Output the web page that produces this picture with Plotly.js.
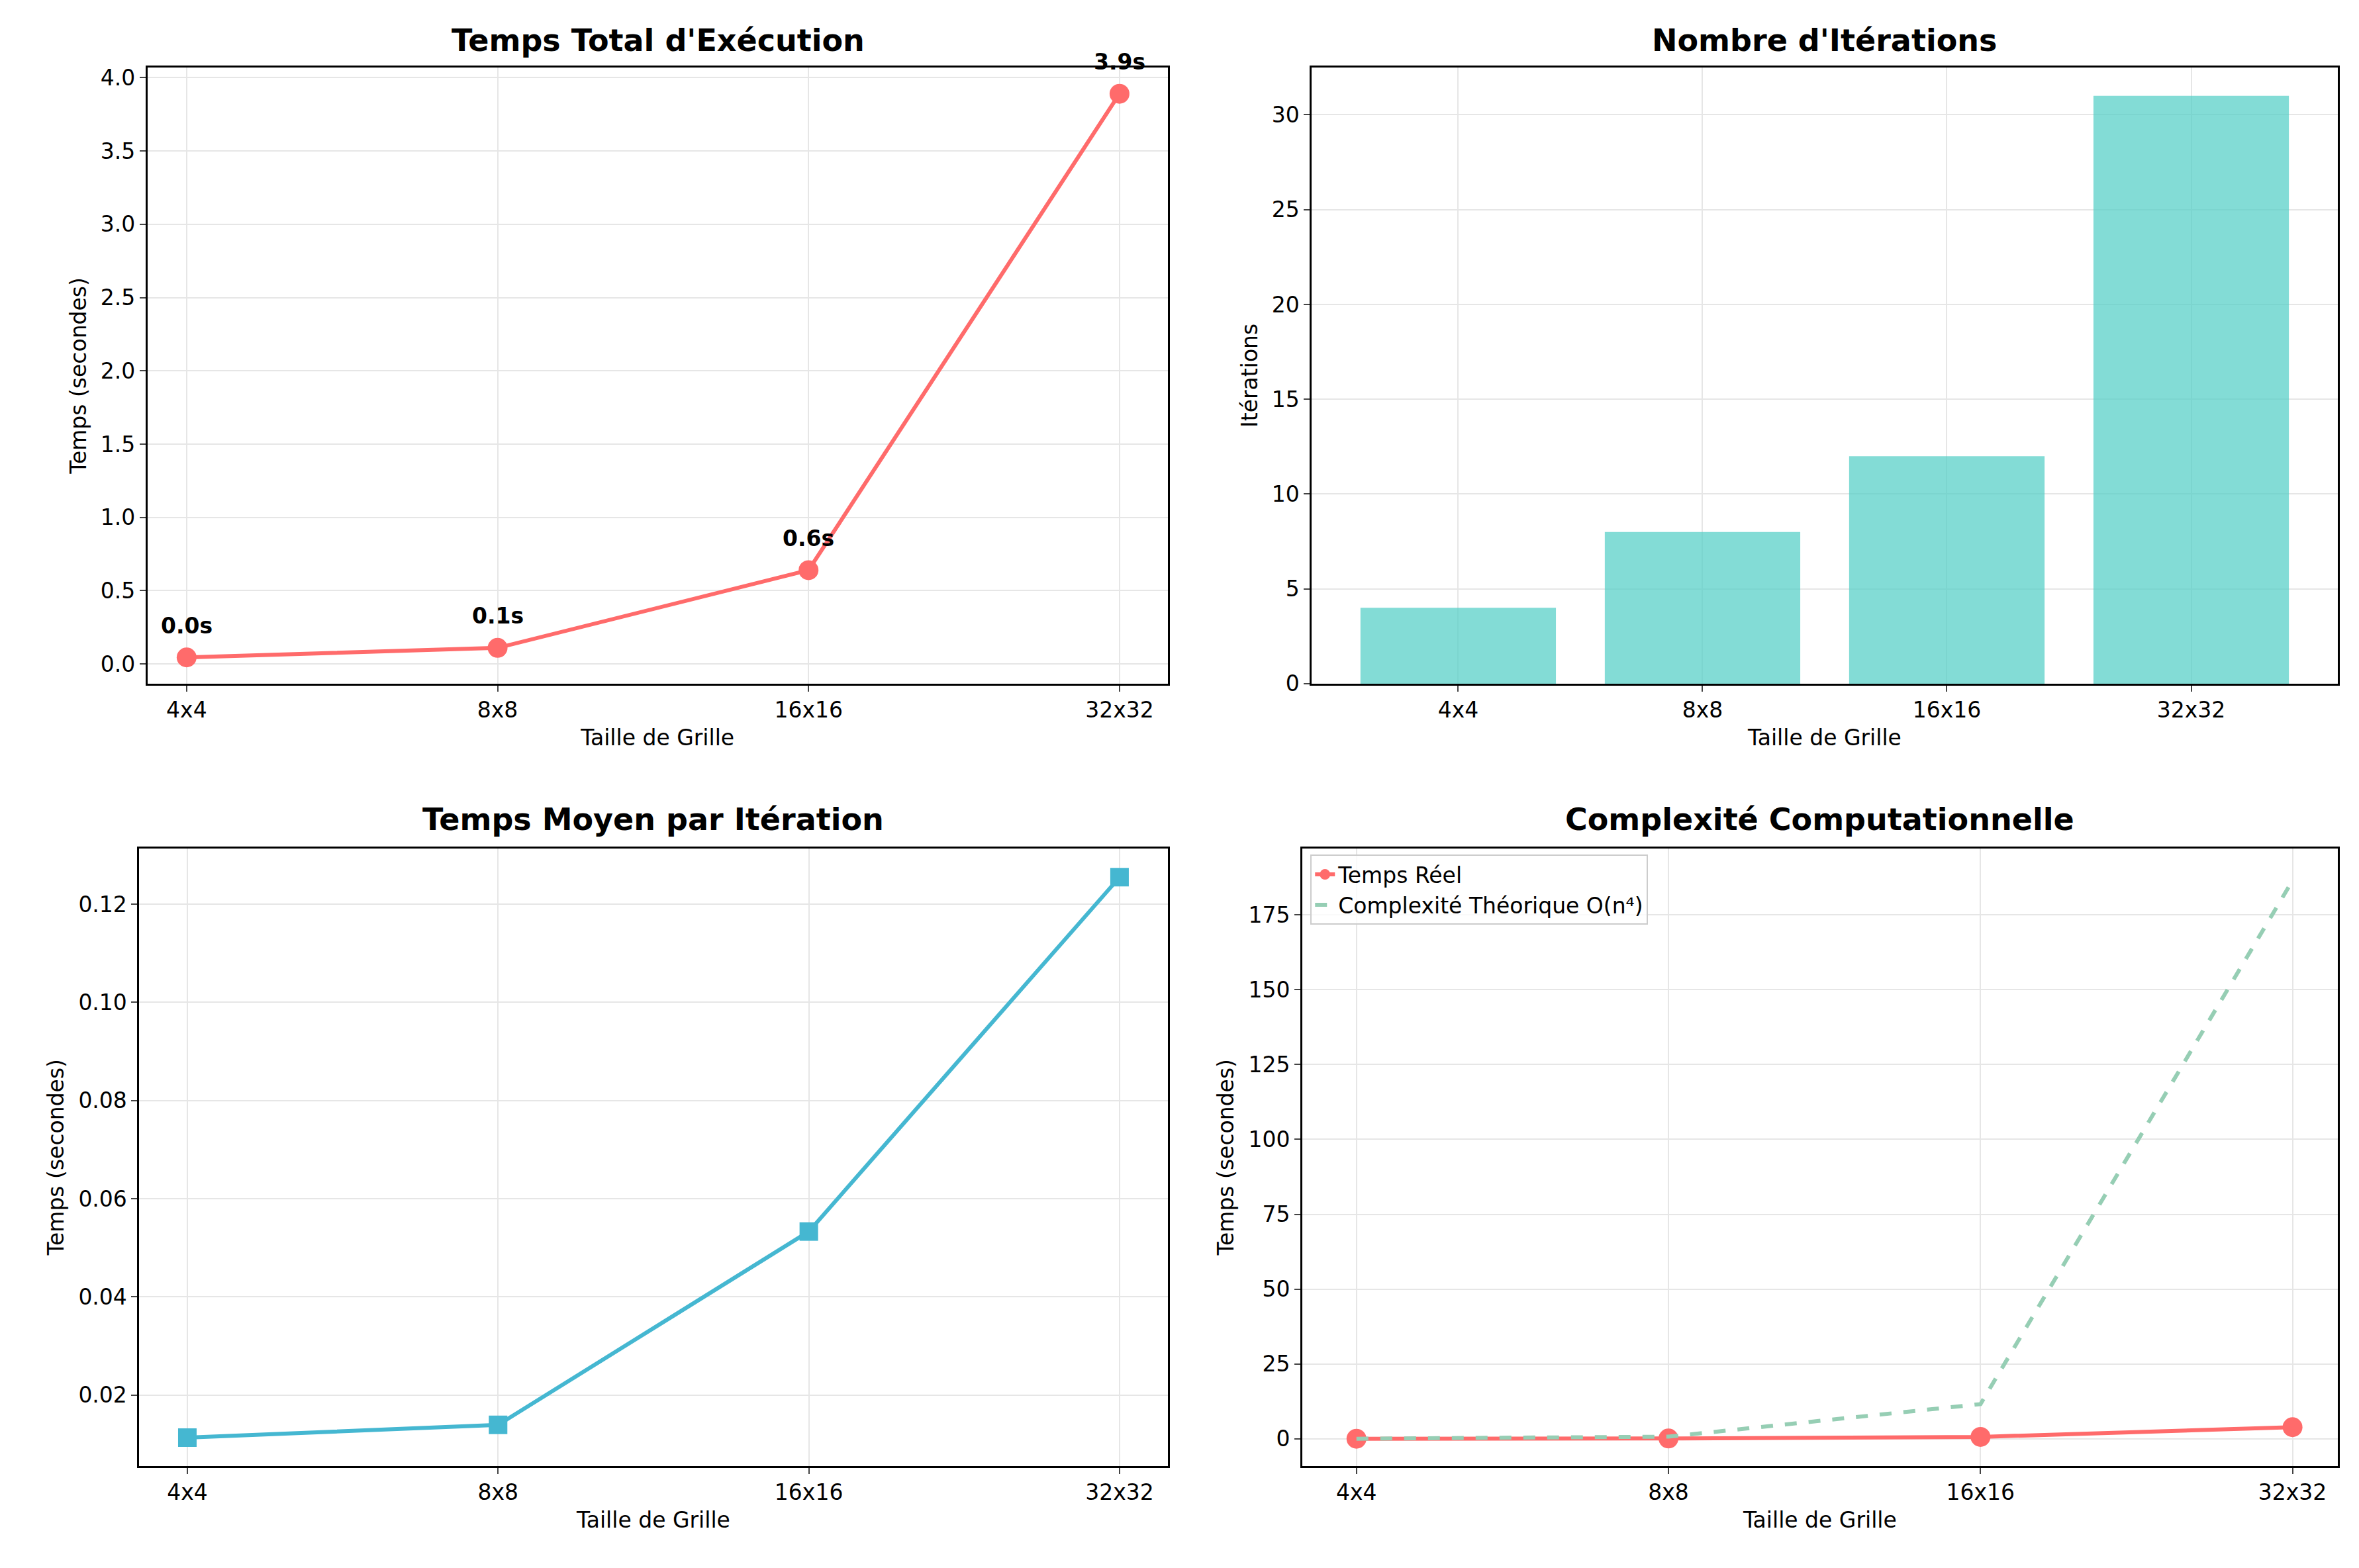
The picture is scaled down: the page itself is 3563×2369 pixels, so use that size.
<!DOCTYPE html>
<html><head><meta charset="utf-8">
<script src="https://cdn.plot.ly/plotly-3.0.1.min.js"></script>
<style>body{margin:0}</style></head><body>
<div id="c" style="width:3563px;height:2369px"></div>
<script>
const categories = ["4x4","8x8","16x16","32x32"];
const totalTime = [0.045, 0.11, 0.64, 3.89];
const totalLabels = ["0.0s","0.1s","0.6s","3.9s"];
const iterations = [4, 8, 12, 31];
const avgTime = [0.0113, 0.0139, 0.0533, 0.1255];
const theoretical = [0.0455, 0.73, 11.6, 186.4];
const idx = categories.map((_, i) => i);

const red = "#FF6B6B", teal = "#4ECDC4", blue = "#45B7D1", green = "#96CEB4";
const F = "DejaVu Sans";
const tick = {family: F, size: 33, color: "#000"};
const axT = t => ({text: t, font: {family: F, size: 33, color: "#000"}, standoff: 12});
const baseX = (dom, anchor, range) => ({domain: dom, anchor: anchor, range: range, tickvals: idx, ticktext: categories,
  showgrid: true, gridcolor: "#e6e6e6", gridwidth: 2, zeroline: false, showline: true, mirror: true, linecolor: "#000", linewidth: 2.5,
  ticks: "outside", ticklen: 9, tickwidth: 2, tickfont: tick, title: axT("Taille de Grille")});
const baseY = (dom, anchor, range, t, extra) => Object.assign({domain: dom, anchor: anchor, range: range,
  showgrid: true, gridcolor: "#e6e6e6", gridwidth: 2, zeroline: false, showline: true, mirror: true, linecolor: "#000", linewidth: 2.5,
  ticks: "outside", ticklen: 9, tickwidth: 2, tickfont: tick, title: axT(t)}, extra || {});

const traces = [
  {x: idx, y: totalTime, xaxis: "x", yaxis: "y", mode: "lines+markers", line: {color: red, width: 6}, marker: {color: red, size: 30}, showlegend: false},
  {x: idx, y: iterations, xaxis: "x2", yaxis: "y2", type: "bar", width: 0.8, marker: {color: teal, opacity: 0.7}, showlegend: false},
  {x: idx, y: avgTime, xaxis: "x3", yaxis: "y3", mode: "lines+markers", line: {color: blue, width: 6}, marker: {color: blue, size: 28, symbol: "square"}, showlegend: false},
  {x: idx, y: totalTime, xaxis: "x4", yaxis: "y4", mode: "lines+markers", name: "Temps Réel", line: {color: red, width: 6}, marker: {color: red, size: 30}},
  {x: idx, y: theoretical, xaxis: "x4", yaxis: "y4", mode: "lines", name: "Complexité Théorique O(n⁴)", line: {color: green, width: 6, dash: "dash"}}
];

const annotations = totalLabels.map((t, i) => ({x: i, y: totalTime[i], xref: "x", yref: "y", text: "<b>" + t + "</b>", showarrow: false, yshift: 48, font: {family: F, size: 33, color: "#000"}}));
const titles = [
  ["Temps Total d'Exécution", 0.279, 0.962],
  ["Nombre d'Itérations", 0.7735, 0.962],
  ["Temps Moyen par Itération", 0.277, 0.465],
  ["Complexité Computationnelle", 0.7715, 0.465]
];
titles.forEach(([t, x, y]) => annotations.push({x: x, y: y, xref: "paper", yref: "paper", xanchor: "center", yanchor: "bottom", showarrow: false,
  text: "<b>" + t + "</b>", font: {family: F, size: 46, color: "#000"}}));

const layout = {
  width: 3563, height: 2369, margin: {l: 0, r: 0, t: 0, b: 0}, paper_bgcolor: "#fff", plot_bgcolor: "#fff",
  annotations: annotations,
  xaxis: baseX([0.0625, 0.495], "y", [-0.126, 3.155]),
  yaxis: baseY([0.564, 0.957], "x", [-0.134, 4.07], "Temps (secondes)", {tickvals: [0,0.5,1,1.5,2,2.5,3,3.5,4], ticktext: ["0.0","0.5","1.0","1.5","2.0","2.5","3.0","3.5","4.0"]}),
  xaxis2: baseX([0.556, 0.991], "y2", [-0.6, 3.6]),
  yaxis2: baseY([0.564, 0.957], "x2", [0, 32.5], "Itérations", {dtick: 5}),
  xaxis3: baseX([0.059, 0.495], "y3", [-0.155, 3.155]),
  yaxis3: baseY([0.065, 0.459], "x3", [0.0055, 0.1314], "Temps (secondes)", {tickvals: [0.02,0.04,0.06,0.08,0.1,0.12], ticktext: ["0.02","0.04","0.06","0.08","0.10","0.12"]}),
  xaxis4: baseX([0.552, 0.991], "y4", [-0.174, 3.145]),
  yaxis4: baseY([0.065, 0.459], "x4", [-9.1, 197.2], "Temps (secondes)", {dtick: 25}),
  showlegend: true,
  legend: {x: 0.5555, y: 0.455, xanchor: "left", yanchor: "top", bgcolor: "rgba(255,255,255,0.8)", bordercolor: "#ccc", borderwidth: 2,
    font: {family: F, size: 33, color: "#000"}}
};
Plotly.newPlot("c", traces, layout, {displayModeBar: false});
</script></body></html>
